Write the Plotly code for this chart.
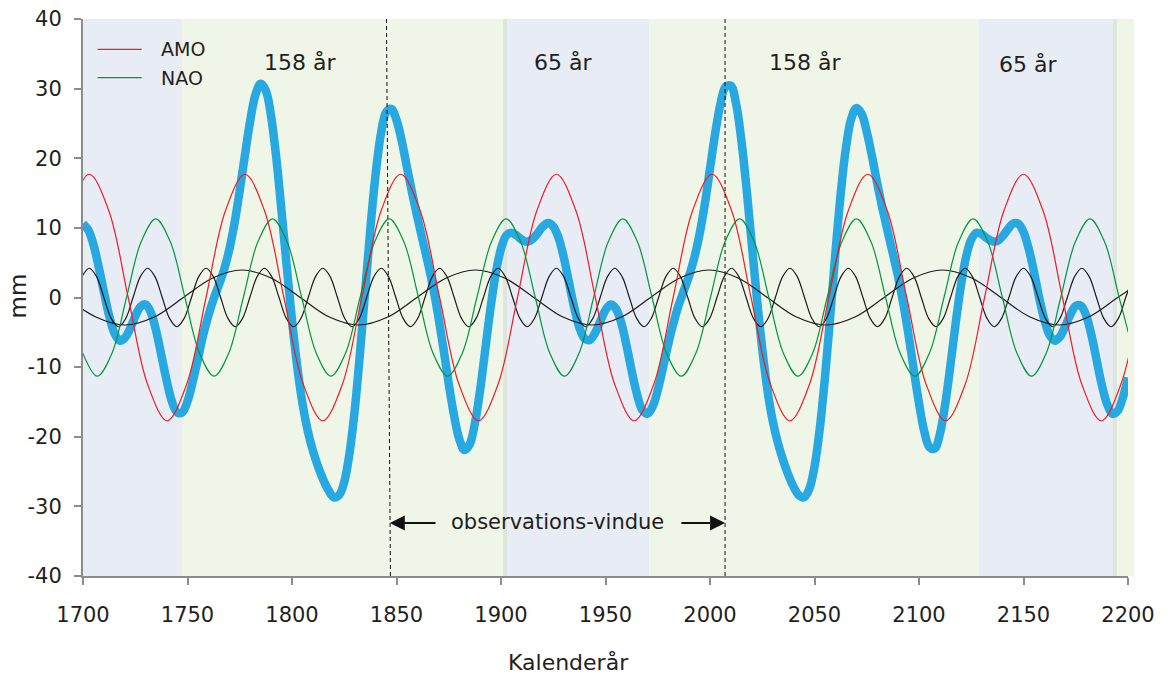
import plotly.graph_objects as go

# ---------------- data ----------------
# AMO (red)
amo_years = [1693.69, 1703, 1712.31, 1721.63, 1730.94, 1740.25, 1749.56, 1758.88, 1768.19, 1777.5,
             1786.81, 1796.13, 1805.44, 1814.75, 1824.06, 1833.38, 1842.69, 1852, 1861.31, 1870.63,
             1879.94, 1889.25, 1898.56, 1907.88, 1917.19, 1926.5, 1935.81, 1945.13, 1954.44, 1963.75,
             1973.06, 1982.38, 1991.69, 2001, 2010.31, 2019.63, 2028.94, 2038.25, 2047.56, 2056.88,
             2066.19, 2075.5, 2084.81, 2094.13, 2103.44, 2112.75, 2122.06, 2131.38, 2140.69, 2150,
             2159.31, 2168.63, 2177.94, 2187.25, 2196.56, 2205.88]
amo_mm = [12.5,
          17.7, 12.5, 0, -12.5, -17.7, -12.5, 0, 12.5,
          17.7, 12.5, 0, -12.5, -17.7, -12.5, 0, 12.5,
          17.7, 12.5, 0, -12.5, -17.7, -12.5, 0, 12.5,
          17.7, 12.5, 0, -12.5, -17.7, -12.5, 0, 12.5,
          17.7, 12.5, 0, -12.5, -17.7, -12.5, 0, 12.5,
          17.7, 12.5, 0, -12.5, -17.7, -12.5, 0, 12.5,
          17.7, 12.5, 0, -12.5, -17.7, -12.5, 0]

# NAO (green)
nao_years = [1699.88, 1706.86, 1713.85, 1720.83, 1727.82,
             1734.8, 1741.78, 1748.77, 1755.75, 1762.74, 1769.72, 1776.71, 1783.69,
             1790.68, 1797.66, 1804.64, 1811.63, 1818.61, 1825.6, 1832.58, 1839.57,
             1846.55, 1853.53, 1860.52, 1867.5, 1874.49, 1881.47, 1888.46, 1895.44,
             1902.43, 1909.41, 1916.39, 1923.38, 1930.36, 1937.35, 1944.33, 1951.32,
             1958.3, 1965.28, 1972.27, 1979.25, 1986.24, 1993.22, 2000.21, 2007.19,
             2014.18, 2021.16, 2028.14, 2035.13, 2042.11, 2049.1, 2056.08, 2063.07,
             2070.05, 2077.03, 2084.02, 2091.0, 2097.99, 2104.97, 2111.96, 2118.94,
             2125.93, 2132.91, 2139.89, 2146.88, 2153.86, 2160.85, 2167.83, 2174.82,
             2181.8, 2188.78, 2195.77, 2202.75]
nao_mm = [-8.0, -11.3, -8.0, 0, 8.0,
          11.3, 8.0, 0, -8.0, -11.3, -8.0, 0, 8.0,
          11.3, 8.0, 0, -8.0, -11.3, -8.0, 0, 8.0,
          11.3, 8.0, 0, -8.0, -11.3, -8.0, 0, 8.0,
          11.3, 8.0, 0, -8.0, -11.3, -8.0, 0, 8.0,
          11.3, 8.0, 0, -8.0, -11.3, -8.0, 0, 8.0,
          11.3, 8.0, 0, -8.0, -11.3, -8.0, 0, 8.0,
          11.3, 8.0, 0, -8.0, -11.3, -8.0, 0, 8.0,
          11.3, 8.0, 0, -8.0, -11.3, -8.0, 0, 8.0,
          11.3, 8.0, 0, -8.0]

# short cycle (black, thin)
short_years = [1699.51,
               1703, 1706.49, 1709.98, 1713.48, 1716.97, 1720.46, 1723.95, 1727.45,
               1730.94, 1734.43, 1737.92, 1741.41, 1744.91, 1748.4, 1751.89, 1755.38,
               1758.88, 1762.37, 1765.86, 1769.35, 1772.84, 1776.34, 1779.83, 1783.32,
               1786.81, 1790.3, 1793.8, 1797.29, 1800.78, 1804.27, 1807.77, 1811.26,
               1814.75, 1818.24, 1821.73, 1825.23, 1828.72, 1832.21, 1835.7, 1839.2,
               1842.69, 1846.18, 1849.67, 1853.16, 1856.66, 1860.15, 1863.64, 1867.13,
               1870.63, 1874.12, 1877.61, 1881.1, 1884.59, 1888.09, 1891.58, 1895.07,
               1898.56, 1902.05, 1905.55, 1909.04, 1912.53, 1916.02, 1919.52, 1923.01,
               1926.5, 1929.99, 1933.48, 1936.98, 1940.47, 1943.96, 1947.45, 1950.95,
               1954.44, 1957.93, 1961.42, 1964.91, 1968.41, 1971.9, 1975.39, 1978.88,
               1982.38, 1985.87, 1989.36, 1992.85, 1996.34, 1999.84, 2003.33, 2006.82,
               2010.31, 2013.8, 2017.3, 2020.79, 2024.28, 2027.77, 2031.27, 2034.76,
               2038.25, 2041.74, 2045.23, 2048.73, 2052.22, 2055.71, 2059.2, 2062.7,
               2066.19, 2069.68, 2073.17, 2076.66, 2080.16, 2083.65, 2087.14, 2090.63,
               2094.13, 2097.62, 2101.11, 2104.6, 2108.09, 2111.59, 2115.08, 2118.57,
               2122.06, 2125.55, 2129.05, 2132.54, 2136.03, 2139.52, 2143.02, 2146.51,
               2150, 2153.49, 2156.98, 2160.48, 2163.97, 2167.46, 2170.95, 2174.45,
               2177.94, 2181.43, 2184.92, 2188.41, 2191.91, 2195.4, 2198.89, 2202.38]
short_mm = [3.0,
            4.2, 3.0, 0, -3.0, -4.2, -3.0, 0, 3.0,
            4.2, 3.0, 0, -3.0, -4.2, -3.0, 0, 3.0,
            4.2, 3.0, 0, -3.0, -4.2, -3.0, 0, 3.0,
            4.2, 3.0, 0, -3.0, -4.2, -3.0, 0, 3.0,
            4.2, 3.0, 0, -3.0, -4.2, -3.0, 0, 3.0,
            4.2, 3.0, 0, -3.0, -4.2, -3.0, 0, 3.0,
            4.2, 3.0, 0, -3.0, -4.2, -3.0, 0, 3.0,
            4.2, 3.0, 0, -3.0, -4.2, -3.0, 0, 3.0,
            4.2, 3.0, 0, -3.0, -4.2, -3.0, 0, 3.0,
            4.2, 3.0, 0, -3.0, -4.2, -3.0, 0, 3.0,
            4.2, 3.0, 0, -3.0, -4.2, -3.0, 0, 3.0,
            4.2, 3.0, 0, -3.0, -4.2, -3.0, 0, 3.0,
            4.2, 3.0, 0, -3.0, -4.2, -3.0, 0, 3.0,
            4.2, 3.0, 0, -3.0, -4.2, -3.0, 0, 3.0,
            4.2, 3.0, 0, -3.0, -4.2, -3.0, 0, 3.0,
            4.2, 3.0, 0, -3.0, -4.2, -3.0, 0, 3.0,
            4.2, 3.0, 0, -3.0, -4.2, -3.0, 0, 3.0,
            4.2, 3.0, 0, -3.0, -4.2, -3.0, 0, 3.0]

# long cycle (black, thin)
long_years = [1692.19, 1706.16, 1720.13, 1734.09, 1748.06, 1762.03, 1776, 1789.97, 1803.94, 1817.91,
              1831.88, 1845.84, 1859.81, 1873.78, 1887.75, 1901.72, 1915.69, 1929.66, 1943.63, 1957.59,
              1971.56, 1985.53, 1999.5, 2013.47, 2027.44, 2041.41, 2055.38, 2069.34, 2083.31, 2097.28,
              2111.25, 2125.22, 2139.19, 2153.16, 2167.13, 2181.09, 2195.06, 2209.03]
long_mm = [0, -2.8, -3.95, -2.8, 0, 2.8,
           3.95, 2.8, 0, -2.8, -3.95, -2.8, 0, 2.8,
           3.95, 2.8, 0, -2.8, -3.95, -2.8, 0, 2.8,
           3.95, 2.8, 0, -2.8, -3.95, -2.8, 0, 2.8,
           3.95, 2.8, 0, -2.8, -3.95, -2.8, 0, 2.8]

# combined curve (thick blue), one value every 2.5 years 1700-2200
combined_years = [1700 + 2.5 * i for i in range(201)]
combined_mm = [10.6, 9.7, 7.6, 4.4, 0.8, -2.6, -5.1, -6.2, -5.8, -4.5,
               -2.7, -1.3, -1.0, -2.2, -4.8, -8.3, -11.9, -14.9, -16.5, -16.5,
               -14.9, -12.1, -8.8, -5.4, -2.6, -0.2, 1.8, 4.0, 6.9, 10.7,
               15.4, 20.5, 25.4, 29.1, 30.7, 29.7, 26.0, 20.0, 12.4, 4.4,
               -3.3, -9.9, -15.2, -19.1, -22.0, -24.3, -26.2, -27.7, -28.7, -28.4,
               -26.5, -22.4, -16.2, -8.1, 0.9, 9.9, 17.7, 23.4, 26.6, 27.1,
               25.5, 22.5, 18.7, 15.0, 11.5, 8.2, 5.0, 1.5, -2.7, -7.4,
               -12.4, -16.9, -20.3, -21.9, -21.1, -18.1, -13.3, -7.4, -1.5, 3.5,
               7.0, 8.9, 9.3, 8.9, 8.3, 8.0, 8.4, 9.2, 10.2, 10.7,
               10.2, 8.6, 5.8, 2.2, -1.4, -4.3, -5.9, -6.1, -5.1, -3.4,
               -1.8, -1.0, -1.6, -3.6, -6.8, -10.5, -13.8, -16.1, -16.7, -15.7,
               -13.3, -10.1, -6.7, -3.7, -1.1, 1.0, 3.1, 5.7, 9.1, 13.4,
               18.5, 23.6, 27.8, 30.3, 30.4, 27.8, 22.6, 15.6, 7.6, -0.3,
               -7.4, -13.3, -17.7, -20.9, -23.4, -25.5, -27.2, -28.4, -28.7, -27.5,
               -24.3, -18.9, -11.5, -2.8, 6.4, 14.8, 21.4, 25.6, 27.2, 26.4,
               23.8, 20.3, 16.4, 12.8, 9.5, 6.3, 3.0, -0.9, -5.4, -10.4,
               -15.2, -19.2, -21.5, -21.7, -19.6, -15.4, -9.8, -3.8, 1.6, 5.8,
               8.3, 9.3, 9.1, 8.5, 8.1, 8.1, 8.8, 9.8, 10.6, 10.6,
               9.4, 7.0, 3.7, 0.0, -3.2, -5.4, -6.2, -5.6, -4.1, -2.4,
               -1.2, -1.2, -2.6, -5.4, -9.0, -12.6, -15.3, -16.7, -16.3, -14.4,
               -11.5]

# background periods (start year, end year, kind)
periods = [(1700, 1747.4, "b"), (1747.4, 1901.0, "g"), (1901.0, 1903.1, "s"),
           (1903.1, 1970.9, "b"), (1970.9, 2128.4, "g"), (2128.4, 2192.7, "b"),
           (2192.7, 2194.9, "s"), (2194.9, 2203.0, "g")]
period_labels = [("158 år", 1803.7, 33.8), ("65 år", 1929.7, 33.8), ("158 år", 2045.4, 33.8), ("65 år", 2152.3, 33.5)]
window = (1846.2, 2007.2)
x_range = [1700, 2200]
x_ticks = [1700, 1750, 1800, 1850, 1900, 1950, 2000, 2050, 2100, 2150, 2200]
x_ticktext = ["1700", "1750", "1800", "1850", "1900", "1950", "2000", "2050", "2100", "2150", "2200"]
y_ticks = [-40, -30, -20, -10, 0, 10, 20, 30, 40]
y_ticktext = ["-40", "-30", "-20", "-10", "0", "10", "20", "30", "40"]

# ---------------- styling ----------------
FONT = "DejaVu Sans"
TXT = "#231f20"
AX = "#8c8c8c"
RED = "#ee1c25"
GREEN = "#00963f"
BLACK = "#1a1a1a"
BLUE = "#27a8e0"
FILL = {"b": "#e8ecf5", "g": "#f0f6e7", "s": "#dde5dd"}

fig = go.Figure()
fig.add_trace(go.Scatter(x=combined_years, y=combined_mm, mode="lines", name="sum",
                         line=dict(color=BLUE, width=8.5, shape="spline"), showlegend=False))
fig.add_trace(go.Scatter(x=long_years, y=long_mm, mode="lines", name="long",
                         line=dict(color=BLACK, width=1.2, shape="spline"), showlegend=False))
fig.add_trace(go.Scatter(x=short_years, y=short_mm, mode="lines", name="short",
                         line=dict(color=BLACK, width=1.2, shape="spline"), showlegend=False))
fig.add_trace(go.Scatter(x=nao_years, y=nao_mm, mode="lines", name="NAO",
                         line=dict(color=GREEN, width=1.2, shape="spline"), showlegend=False))
fig.add_trace(go.Scatter(x=amo_years, y=amo_mm, mode="lines", name="AMO",
                         line=dict(color=RED, width=1.2, shape="spline"), showlegend=False))

span = x_range[1] - x_range[0]
shapes = []
for x0, x1, kind in periods:
    # paper coordinates so the last band may run slightly past the axis end, as in the original
    shapes.append(dict(type="rect", xref="paper", yref="paper",
                       x0=(x0 - x_range[0]) / span, x1=(x1 - x_range[0]) / span, y0=0, y1=1,
                       fillcolor=FILL[kind], line=dict(width=0), layer="below"))
# dashed observation window lines
shapes.append(dict(type="line", xref="x", yref="y", x0=window[0] - 1.0, x1=window[0] + 0.9, y0=40, y1=-40,
                   line=dict(color="#111111", width=1, dash="4px,3px"), layer="above"))
shapes.append(dict(type="line", xref="x", yref="y", x0=window[1], x1=window[1], y0=40, y1=-40,
                   line=dict(color="#111111", width=1, dash="4px,3px"), layer="above"))
# legend samples
shapes.append(dict(type="line", xref="paper", yref="paper", x0=0.0141, x1=0.0562, y0=0.9456, y1=0.9456,
                   line=dict(color=RED, width=1.2)))
shapes.append(dict(type="line", xref="paper", yref="paper", x0=0.0141, x1=0.0562, y0=0.8946, y1=0.8946,
                   line=dict(color=GREEN, width=1.2)))

ann = []
for txt, x, y in period_labels:
    ann.append(dict(text=txt, x=x, y=y, xref="x", yref="y", showarrow=False,
                    xanchor="center", yanchor="middle", font=dict(family=FONT, size=22, color=TXT)))
ann.append(dict(text="observations-vindue", x=1926.9, y=-32.2, xref="x", yref="y", showarrow=False,
                xanchor="center", yanchor="middle", font=dict(family=FONT, size=21, color=TXT)))
ann.append(dict(text="", x=window[0] + 0.6, y=-32.4, ax=1869.4, ay=-32.4, xref="x", yref="y",
                axref="x", ayref="y", showarrow=True, arrowhead=2, arrowwidth=2, arrowsize=1.5,
                arrowcolor="#111111"))
ann.append(dict(text="", x=window[1], y=-32.4, ax=1985.6, ay=-32.4, xref="x", yref="y",
                axref="x", ayref="y", showarrow=True, arrowhead=2, arrowwidth=2, arrowsize=1.5,
                arrowcolor="#111111"))
ann.append(dict(text="AMO", x=0.0725, y=0.9456, xref="paper", yref="paper", xanchor="left", yanchor="middle",
                showarrow=False, font=dict(family=FONT, size=19, color=TXT)))
ann.append(dict(text="NAO", x=0.0725, y=0.8946, xref="paper", yref="paper", xanchor="left", yanchor="middle",
                showarrow=False, font=dict(family=FONT, size=19, color=TXT)))
ann.append(dict(text="mm", x=-0.0625, y=0.503, xref="paper", yref="paper", textangle=-90, showarrow=False,
                xanchor="center", yanchor="middle", font=dict(family=FONT, size=23, color=TXT)))
ann.append(dict(text="Kalenderår", x=0.4645, y=-0.156, xref="paper", yref="paper", showarrow=False,
                xanchor="center", yanchor="middle", font=dict(family=FONT, size=22, color=TXT)))

fig.update_layout(
    width=1173, height=675, margin=dict(l=83, r=45, t=19, b=99, autoexpand=False),
    paper_bgcolor="white", plot_bgcolor="white",
    shapes=shapes, annotations=ann,
    font=dict(family=FONT, color=TXT),
)
fig.update_xaxes(range=x_range, tickvals=x_ticks, ticktext=x_ticktext, showgrid=False, zeroline=False,
                 showline=True, linecolor=AX, linewidth=2, ticks="outside", ticklen=7, tickwidth=2, tickcolor=AX,
                 tickfont=dict(family=FONT, size=21, color=TXT), ticklabelstandoff=12, automargin=False,
                 ticklabeloverflow="allow")
fig.update_yaxes(range=[-40, 40], tickvals=y_ticks, ticktext=y_ticktext, showgrid=False, zeroline=False,
                 showline=True, linecolor=AX, linewidth=2, ticks="outside", ticklen=7, tickwidth=2, tickcolor=AX,
                 tickfont=dict(family=FONT, size=21, color=TXT), ticklabelstandoff=8, automargin=False,
                 ticklabeloverflow="allow")
# remove the page's default 8px body margin so the figure fills the window exactly
fig.write_html("out.html", config={"displayModeBar": False},
               post_script="document.body.style.margin='0px';")
